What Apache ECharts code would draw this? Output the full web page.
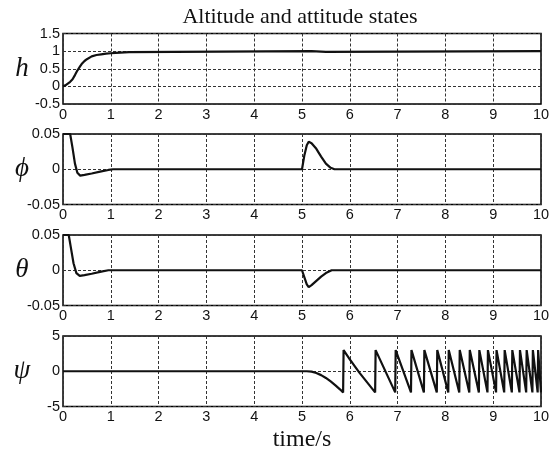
<!DOCTYPE html>
<html>
<head>
<meta charset="utf-8">
<script src="https://cdn.jsdelivr.net/npm/echarts@6/dist/echarts.min.js"></script>
<style>
  html, body { margin: 0; padding: 0; background: #fff; }
  #chart { width: 558px; height: 458px; }
</style>
</head>
<body>
<div id="chart"></div>
<script>
// time axis
const xMin = 0, xMax = 10, xStep = 1;

// panel names and y ranges
const panelNames = ["h", "\u03d5", "\u03b8", "\u03c8"];
const yRanges = [
  { min: -0.5, max: 1.5, interval: 0.5 },
  { min: -0.05, max: 0.05, interval: 0.05 },
  { min: -0.05, max: 0.05, interval: 0.05 },
  { min: -5, max: 5, interval: 5 },
];

// altitude h  [t, value]
const hData = [
  [0, 0], [0.05, 0.03], [0.1, 0.08], [0.15, 0.13], [0.2, 0.2], [0.25, 0.32],
  [0.3, 0.45], [0.35, 0.55], [0.4, 0.65], [0.45, 0.72], [0.5, 0.77],
  [0.6, 0.85], [0.7, 0.89], [0.8, 0.91], [0.9, 0.93], [1.0, 0.94],
  [1.1, 0.95], [1.2, 0.96], [1.38, 0.97], [1.42, 1.0], [5.2, 1.0],
  [5.22, 0.98], [5.5, 0.98], [5.52, 1.0], [10, 1.0],
];

// roll phi
const phiData = [
  [0, 0.05], [0.15, 0.05], [0.2, 0.03], [0.25, 0.008], [0.3, -0.005],
  [0.36, -0.009], [0.45, -0.008], [0.6, -0.006], [0.8, -0.003],
  [0.95, -0.001], [1.05, 0], [5.0, 0], [5.05, 0.02], [5.1, 0.034],
  [5.14, 0.039], [5.2, 0.037], [5.3, 0.029], [5.4, 0.018], [5.5, 0.008],
  [5.6, 0.002], [5.68, 0], [10, 0],
];

// pitch theta
const thetaData = [
  [0, 0.05], [0.12, 0.05], [0.17, 0.03], [0.22, 0.01], [0.28, -0.004],
  [0.35, -0.008], [0.45, -0.007], [0.6, -0.005], [0.8, -0.002],
  [0.95, 0], [5.0, 0], [5.05, -0.01], [5.1, -0.02], [5.14, -0.024],
  [5.2, -0.021], [5.3, -0.015], [5.4, -0.009], [5.5, -0.004],
  [5.62, 0], [10, 0],
];

// yaw psi (sawtooth after 5.9 s)
const psiData = [
  [0, 0], [5.1, 0], [5.2, -0.05], [5.3, -0.25], [5.4, -0.55], [5.5, -0.95],
  [5.6, -1.45], [5.7, -2.0], [5.8, -2.6], [5.86, -3.0],
  [5.87, 3.0], [6.0, 1.7], [6.2, -0.2], [6.53, -3.0],
  [6.54, 3.0], [6.95, -3.0],
  [6.96, 3.0], [7.28, -3.0],
  [7.29, 3.0], [7.55, -3.0],
  [7.56, 3.0], [7.82, -3.0],
  [7.83, 3.0], [8.06, -3.0],
  [8.07, 3.0], [8.29, -3.0],
  [8.3, 3.0], [8.5, -3.0],
  [8.51, 3.0], [8.7, -3.0],
  [8.71, 3.0], [8.88, -3.0],
  [8.89, 3.0], [9.06, -3.0],
  [9.07, 3.0], [9.23, -3.0],
  [9.24, 3.0], [9.39, -3.0],
  [9.4, 3.0], [9.55, -3.0],
  [9.56, 3.0], [9.69, -3.0],
  [9.7, 3.0], [9.82, -3.0],
  [9.83, 3.0], [9.93, -3.0],
  [9.94, 3.0], [10, -3.0],
];

const seriesData = [hData, phiData, thetaData, psiData];

let chartDom = document.getElementById("chart");
let myChart = echarts.init(chartDom);

const tops = [33.5, 134, 235, 336];
const plotLeft = 63, plotWidth = 478, plotHeight = 70.5;
const tickFont = "Liberation Sans, Arial, sans-serif";
const serifFont = "Liberation Serif, Times New Roman, serif";
const dashStyle = { color: "#333", width: 1, type: [3, 2] };

let grids = [], xAxes = [], yAxes = [], series = [], graphics = [];
for (let i = 0; i < 4; i++) {
  grids.push({
    left: plotLeft, width: plotWidth, top: tops[i], height: plotHeight,
    show: true, borderColor: "#000", borderWidth: 1.5, backgroundColor: "#fff",
  });
  xAxes.push({
    type: "value", gridIndex: i, min: xMin, max: xMax, interval: xStep,
    axisLine: { show: false },
    axisTick: { show: false },
    axisLabel: { color: "#111", fontSize: 14.5, fontFamily: tickFont, margin: 3 },
    splitLine: { show: true, lineStyle: dashStyle },
  });
  yAxes.push({
    type: "value", gridIndex: i,
    min: yRanges[i].min, max: yRanges[i].max, interval: yRanges[i].interval,
    axisLine: { show: false },
    axisTick: { show: false },
    axisLabel: { color: "#111", fontSize: 14.5, fontFamily: tickFont, margin: 3 },
    splitLine: { show: true, lineStyle: dashStyle },
  });
  series.push({
    type: "line", xAxisIndex: i, yAxisIndex: i,
    data: seriesData[i], showSymbol: false, symbol: "none",
    lineStyle: { color: "#111", width: 2.2 },
    clip: true, z: 5,
  });
  graphics.push({
    type: "text", x: 22, y: tops[i] + plotHeight / 2,
    style: {
      text: panelNames[i], fill: "#111",
      font: "italic 27px " + serifFont,
      textAlign: "center", textVerticalAlign: "middle",
    },
  });
}

graphics.push({
  type: "text", x: 300, y: 17,
  style: {
    text: "Altitude and attitude states", fill: "#111",
    font: "22px " + serifFont, textAlign: "center", textVerticalAlign: "middle",
  },
});
graphics.push({
  type: "text", x: 302, y: 440,
  style: {
    text: "time/s", fill: "#111",
    font: "24px " + serifFont, textAlign: "center", textVerticalAlign: "middle",
  },
});

let option = {
  animation: false,
  backgroundColor: "#fff",
  grid: grids,
  xAxis: xAxes,
  yAxis: yAxes,
  series: series,
  graphic: graphics,
};

myChart.setOption(option);
</script>
</body>
</html>
